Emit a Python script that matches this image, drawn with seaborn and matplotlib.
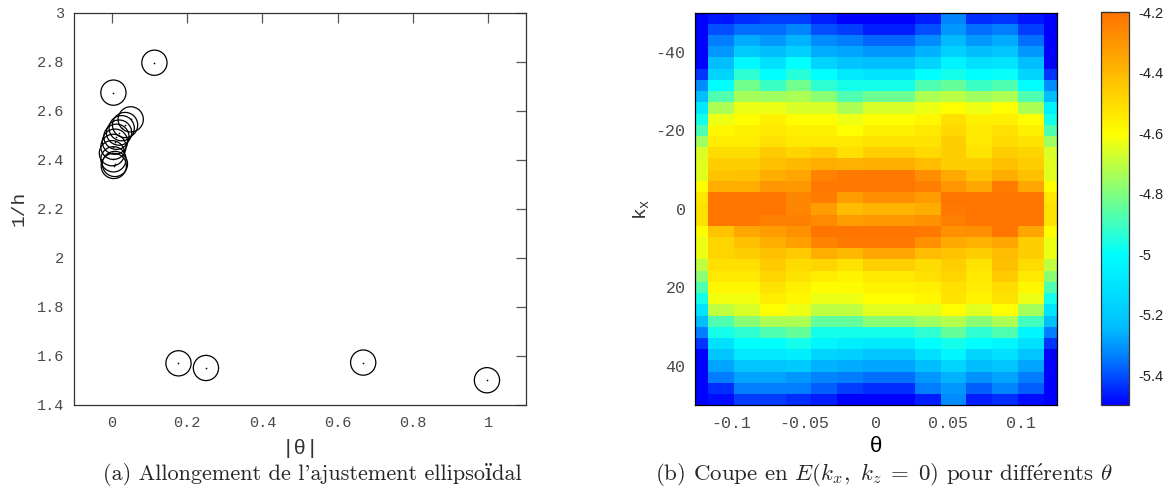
import numpy as np
import matplotlib
matplotlib.use("Agg")
import matplotlib.pyplot as plt
from matplotlib.colors import LinearSegmentedColormap
import seaborn as sns

# (a) 1/h versus |theta|
theta_abs = [0.113, 0.004, 0.050, 0.035, 0.026, 0.019, 0.012, 0.008, 0.004,
             0.000, 0.004, 0.008, 0.005, 0.177, 0.250, 0.668, 0.997]
inv_h = [2.796, 2.674, 2.565, 2.542, 2.529, 2.511, 2.494, 2.474, 2.453,
         2.427, 2.402, 2.383, 2.375, 1.570, 1.551, 1.573, 1.501]

# (b) E(kx, kz=0) : rows = kx, columns = theta
theta = [-0.125, -0.1071, -0.0893, -0.0714, -0.0536, -0.0357, -0.0179, 0.0,
         0.0179, 0.0357, 0.0536, 0.0714, 0.0893, 0.1071, 0.125]
kx = [-48.57, -45.71, -42.86, -40.0, -37.14, -34.29, -31.43, -28.57, -25.71,
      -22.86, -20.0, -17.14, -14.29, -11.43, -8.57, -5.71, -2.86, 0.0,
      2.86, 5.71, 8.57, 11.43, 14.29, 17.14, 20.0, 22.86, 25.71, 28.57,
      31.43, 34.29, 37.14, 40.0, 42.86, 45.71, 48.57]
energy = [
    [-5.50, -5.47, -5.44, -5.42, -5.42, -5.46, -5.50, -5.50, -5.50, -5.46, -5.33, -5.44, -5.43, -5.47, -5.50],
    [-5.50, -5.40, -5.36, -5.36, -5.33, -5.40, -5.42, -5.46, -5.46, -5.40, -5.30, -5.36, -5.34, -5.42, -5.50],
    [-5.50, -5.34, -5.27, -5.30, -5.26, -5.32, -5.34, -5.37, -5.37, -5.32, -5.25, -5.30, -5.27, -5.36, -5.50],
    [-5.50, -5.30, -5.20, -5.24, -5.18, -5.27, -5.28, -5.30, -5.30, -5.26, -5.18, -5.24, -5.22, -5.30, -5.50],
    [-5.50, -5.24, -5.02, -5.12, -5.00, -5.16, -5.22, -5.24, -5.24, -5.16, -5.04, -5.12, -5.10, -5.24, -5.50],
    [-5.43, -5.16, -4.93, -5.00, -4.94, -5.00, -5.08, -5.10, -5.10, -5.00, -4.97, -5.00, -4.99, -5.16, -5.43],
    [-5.32, -5.00, -4.82, -4.91, -4.82, -4.93, -4.97, -4.97, -4.97, -4.88, -4.84, -4.91, -4.88, -5.00, -5.32],
    [-5.24, -4.88, -4.74, -4.75, -4.73, -4.78, -4.88, -4.83, -4.83, -4.73, -4.71, -4.75, -4.73, -4.88, -5.24],
    [-5.08, -4.73, -4.63, -4.63, -4.66, -4.66, -4.73, -4.66, -4.66, -4.63, -4.60, -4.63, -4.60, -4.73, -5.05],
    [-4.97, -4.63, -4.60, -4.56, -4.60, -4.60, -4.63, -4.60, -4.60, -4.58, -4.51, -4.56, -4.56, -4.60, -4.97],
    [-4.88, -4.58, -4.56, -4.54, -4.56, -4.56, -4.60, -4.56, -4.56, -4.54, -4.49, -4.54, -4.51, -4.56, -4.88],
    [-4.75, -4.55, -4.55, -4.51, -4.54, -4.54, -4.54, -4.52, -4.52, -4.52, -4.46, -4.54, -4.50, -4.52, -4.75],
    [-4.66, -4.50, -4.50, -4.45, -4.48, -4.45, -4.51, -4.46, -4.46, -4.49, -4.46, -4.52, -4.46, -4.48, -4.66],
    [-4.65, -4.46, -4.46, -4.42, -4.40, -4.37, -4.38, -4.37, -4.37, -4.41, -4.46, -4.46, -4.42, -4.46, -4.65],
    [-4.65, -4.43, -4.42, -4.37, -4.35, -4.25, -4.22, -4.22, -4.22, -4.28, -4.36, -4.42, -4.37, -4.42, -4.65],
    [-4.60, -4.37, -4.37, -4.30, -4.31, -4.22, -4.22, -4.22, -4.22, -4.24, -4.30, -4.35, -4.23, -4.35, -4.60],
    [-4.54, -4.21, -4.21, -4.21, -4.26, -4.23, -4.32, -4.28, -4.28, -4.32, -4.21, -4.21, -4.21, -4.21, -4.54],
    [-4.52, -4.21, -4.21, -4.21, -4.26, -4.32, -4.41, -4.39, -4.39, -4.37, -4.22, -4.21, -4.21, -4.21, -4.52],
    [-4.52, -4.21, -4.21, -4.24, -4.24, -4.27, -4.32, -4.31, -4.31, -4.29, -4.24, -4.21, -4.21, -4.21, -4.52],
    [-4.60, -4.43, -4.35, -4.32, -4.29, -4.21, -4.21, -4.21, -4.21, -4.22, -4.29, -4.28, -4.21, -4.35, -4.60],
    [-4.63, -4.48, -4.42, -4.37, -4.33, -4.25, -4.22, -4.22, -4.22, -4.29, -4.36, -4.38, -4.35, -4.46, -4.63],
    [-4.63, -4.48, -4.46, -4.42, -4.45, -4.37, -4.40, -4.35, -4.35, -4.41, -4.43, -4.46, -4.41, -4.46, -4.63],
    [-4.70, -4.51, -4.51, -4.45, -4.50, -4.48, -4.52, -4.46, -4.46, -4.50, -4.46, -4.52, -4.42, -4.50, -4.70],
    [-4.78, -4.54, -4.54, -4.48, -4.52, -4.55, -4.57, -4.54, -4.54, -4.51, -4.48, -4.54, -4.45, -4.54, -4.78],
    [-4.88, -4.58, -4.58, -4.52, -4.56, -4.59, -4.59, -4.57, -4.57, -4.56, -4.51, -4.55, -4.50, -4.58, -4.88],
    [-4.97, -4.62, -4.62, -4.55, -4.58, -4.63, -4.63, -4.60, -4.60, -4.58, -4.52, -4.57, -4.52, -4.63, -4.97],
    [-5.10, -4.70, -4.66, -4.60, -4.63, -4.70, -4.70, -4.65, -4.65, -4.65, -4.60, -4.65, -4.60, -4.74, -5.10],
    [-5.24, -4.88, -4.78, -4.73, -4.73, -4.84, -4.84, -4.78, -4.78, -4.75, -4.72, -4.78, -4.73, -4.90, -5.24],
    [-5.34, -4.97, -4.93, -4.88, -4.84, -4.97, -4.97, -4.97, -4.97, -4.93, -4.84, -4.93, -4.88, -5.03, -5.34],
    [-5.43, -5.12, -5.00, -5.00, -4.97, -5.03, -5.06, -5.08, -5.08, -5.00, -4.97, -5.00, -5.03, -5.12, -5.43],
    [-5.50, -5.22, -5.08, -5.08, -5.06, -5.16, -5.18, -5.22, -5.22, -5.12, -5.03, -5.16, -5.12, -5.22, -5.50],
    [-5.50, -5.28, -5.22, -5.22, -5.20, -5.26, -5.27, -5.28, -5.28, -5.24, -5.16, -5.24, -5.22, -5.28, -5.50],
    [-5.50, -5.34, -5.28, -5.28, -5.30, -5.33, -5.34, -5.36, -5.36, -5.30, -5.26, -5.31, -5.28, -5.34, -5.50],
    [-5.50, -5.44, -5.34, -5.34, -5.34, -5.38, -5.42, -5.44, -5.44, -5.34, -5.30, -5.38, -5.33, -5.38, -5.50],
    [-5.50, -5.48, -5.42, -5.42, -5.44, -5.46, -5.50, -5.50, -5.50, -5.46, -5.32, -5.46, -5.44, -5.48, -5.50],
]

xt_a = [0, 0.2, 0.4, 0.6, 0.8, 1]
yt_a = [1.4, 1.6, 1.8, 2, 2.2, 2.4, 2.6, 2.8, 3]
xt_b = [-0.1, -0.05, 0, 0.05, 0.1]
yt_b = [-40, -20, 0, 20, 40]
cb_ticks = [-5.4, -5.2, -5, -4.8, -4.6, -4.4, -4.2]

sns.set_style("white")
plt.rcParams["axes.unicode_minus"] = False
plt.rcParams["mathtext.fontset"] = "cm"

W, H = 1174, 496
fig = plt.figure(figsize=(W / 100, H / 100), dpi=100)

def px(x, y):
    return x / W, 1 - y / H

mono = "Liberation Mono"
grey = "#4a4a4a"

# ---- (a) scatter ----
ax1 = fig.add_axes([74.3 / W, (H - 405) / H, 451.4 / W, 392.3 / H])
sns.scatterplot(x=theta_abs, y=inv_h, ax=ax1, s=330, marker="o",
                facecolors="none", edgecolors="black", linewidth=0.9)
sns.scatterplot(x=theta_abs, y=inv_h, ax=ax1, s=1.5, color="black",
                linewidth=0)
ax1.set_xlim(-0.1, 1.1)
ax1.set_ylim(1.4, 3)
ax1.set_xticks(xt_a)
ax1.set_xticklabels([f"{v:g}" for v in xt_a])
ax1.set_yticks(yt_a)
ax1.set_yticklabels([f"{v:g}" for v in yt_a])
ax1.tick_params(direction="in", top=True, right=True, length=7.2,
                width=0.9, color="#555555", labelcolor=grey, labelsize=11)
ax1.tick_params(axis="x", pad=8)
ax1.tick_params(axis="y", pad=7.5)
for lab in ax1.get_xticklabels() + ax1.get_yticklabels():
    lab.set_family(mono)
for sp in ax1.spines.values():
    sp.set_visible(True)
    sp.set_color("#333333")
    sp.set_linewidth(0.9)

# ---- (b) heatmap ----
ax2 = fig.add_axes([695.3 / W, (H - 405.3) / H, 361.5 / W, 392.8 / H])
cax = fig.add_axes([1100.5 / W, (H - 405.3) / H, 28.3 / W, 393 / H])

vmin, vmax = -5.5, -4.2
nodes = [(-5.50, (0, 0, 1)), (-5.44, (0, 0.19, 1)), (-5.34, (0, 0.5, 1)),
         (-5.24, (0, 0.75, 1)), (-5.12, (0, 0.88, 1)), (-5.00, (0, 1, 1)),
         (-4.80, (0.5, 1, 0.5)), (-4.60, (1, 1, 0)), (-4.20, (1, 0.45, 0))]
cmap = LinearSegmentedColormap.from_list(
    "ecut", [((v - vmin) / (vmax - vmin), c) for v, c in nodes])

sns.heatmap(np.array(energy), ax=ax2, cbar_ax=cax, cmap=cmap,
            vmin=vmin, vmax=vmax, xticklabels=False, yticklabels=False)
ax2.set_xlim(0.5, len(theta) - 0.5)
ax2.set_ylim(len(kx), 0)

cols = np.arange(len(theta)) + 0.5
rows = np.arange(len(kx)) + 0.5
ax2.set_xticks(np.interp(xt_b, theta, cols))
ax2.set_xticklabels([f"{v:g}" for v in xt_b])
ax2.set_yticks(np.interp(yt_b, kx, rows))
ax2.set_yticklabels([f"{v:g}" for v in yt_b], rotation=0)
ax2.tick_params(direction="in", top=True, right=True, bottom=True, left=True,
                length=7.2, width=0.9, color="black", labelcolor=grey,
                labelsize=12)
ax2.tick_params(axis="x", pad=8, labelrotation=0)
ax2.tick_params(axis="y", pad=7)
for lab in ax2.get_xticklabels() + ax2.get_yticklabels():
    lab.set_family(mono)
for sp in ax2.spines.values():
    sp.set_visible(True)
    sp.set_color("black")
    sp.set_linewidth(0.9)

cbar = ax2.collections[0].colorbar
cbar.set_ticks(cb_ticks)
cbar.set_ticklabels([f"{v:g}" for v in cb_ticks])
cbar.outline.set_visible(True)
cbar.outline.set_linewidth(0.9)
cbar.outline.set_edgecolor("#333333")
cax.tick_params(direction="in", left=True, right=True, length=7.2, width=0.9,
                color="#333333", labelleft=False, labelright=True,
                labelsize=10.5, labelcolor="#222222", pad=7)
for lab in cax.get_yticklabels():
    lab.set_family("Liberation Sans")

# ---- axis labels ----
fig.text(*px(300, 448), "|θ|", family=mono, size=15, color="#333333",
         ha="center", va="center")
fig.text(*px(19, 208), "1/h", family=mono, size=14, color="#333333",
         ha="center", va="center", rotation=90)
fig.text(*px(876, 447), "θ", family="Liberation Sans", size=16,
         color="black", ha="center", va="center")
fig.text(*px(641, 209), r"k$\mathregular{_x}$", family=mono, size=14,
         color="#333333", ha="center", va="center", rotation=90)

# ---- captions ----
serif = ["cmr10", "DejaVu Serif"]
fig.text(*px(312, 475), "(a) Allongement de l'ajustement ellipsoïdal",
         family=serif, size=16, ha="center", va="center")
fig.text(*px(884, 475),
         r"(b) Coupe en $E(k_x,\ k_z\;=\;0)$ pour diff$\mathrm{\acute{e}}$rents $\theta$",
         family=serif, size=16.5, ha="center", va="center")

fig.savefig("out.png", dpi=100)
